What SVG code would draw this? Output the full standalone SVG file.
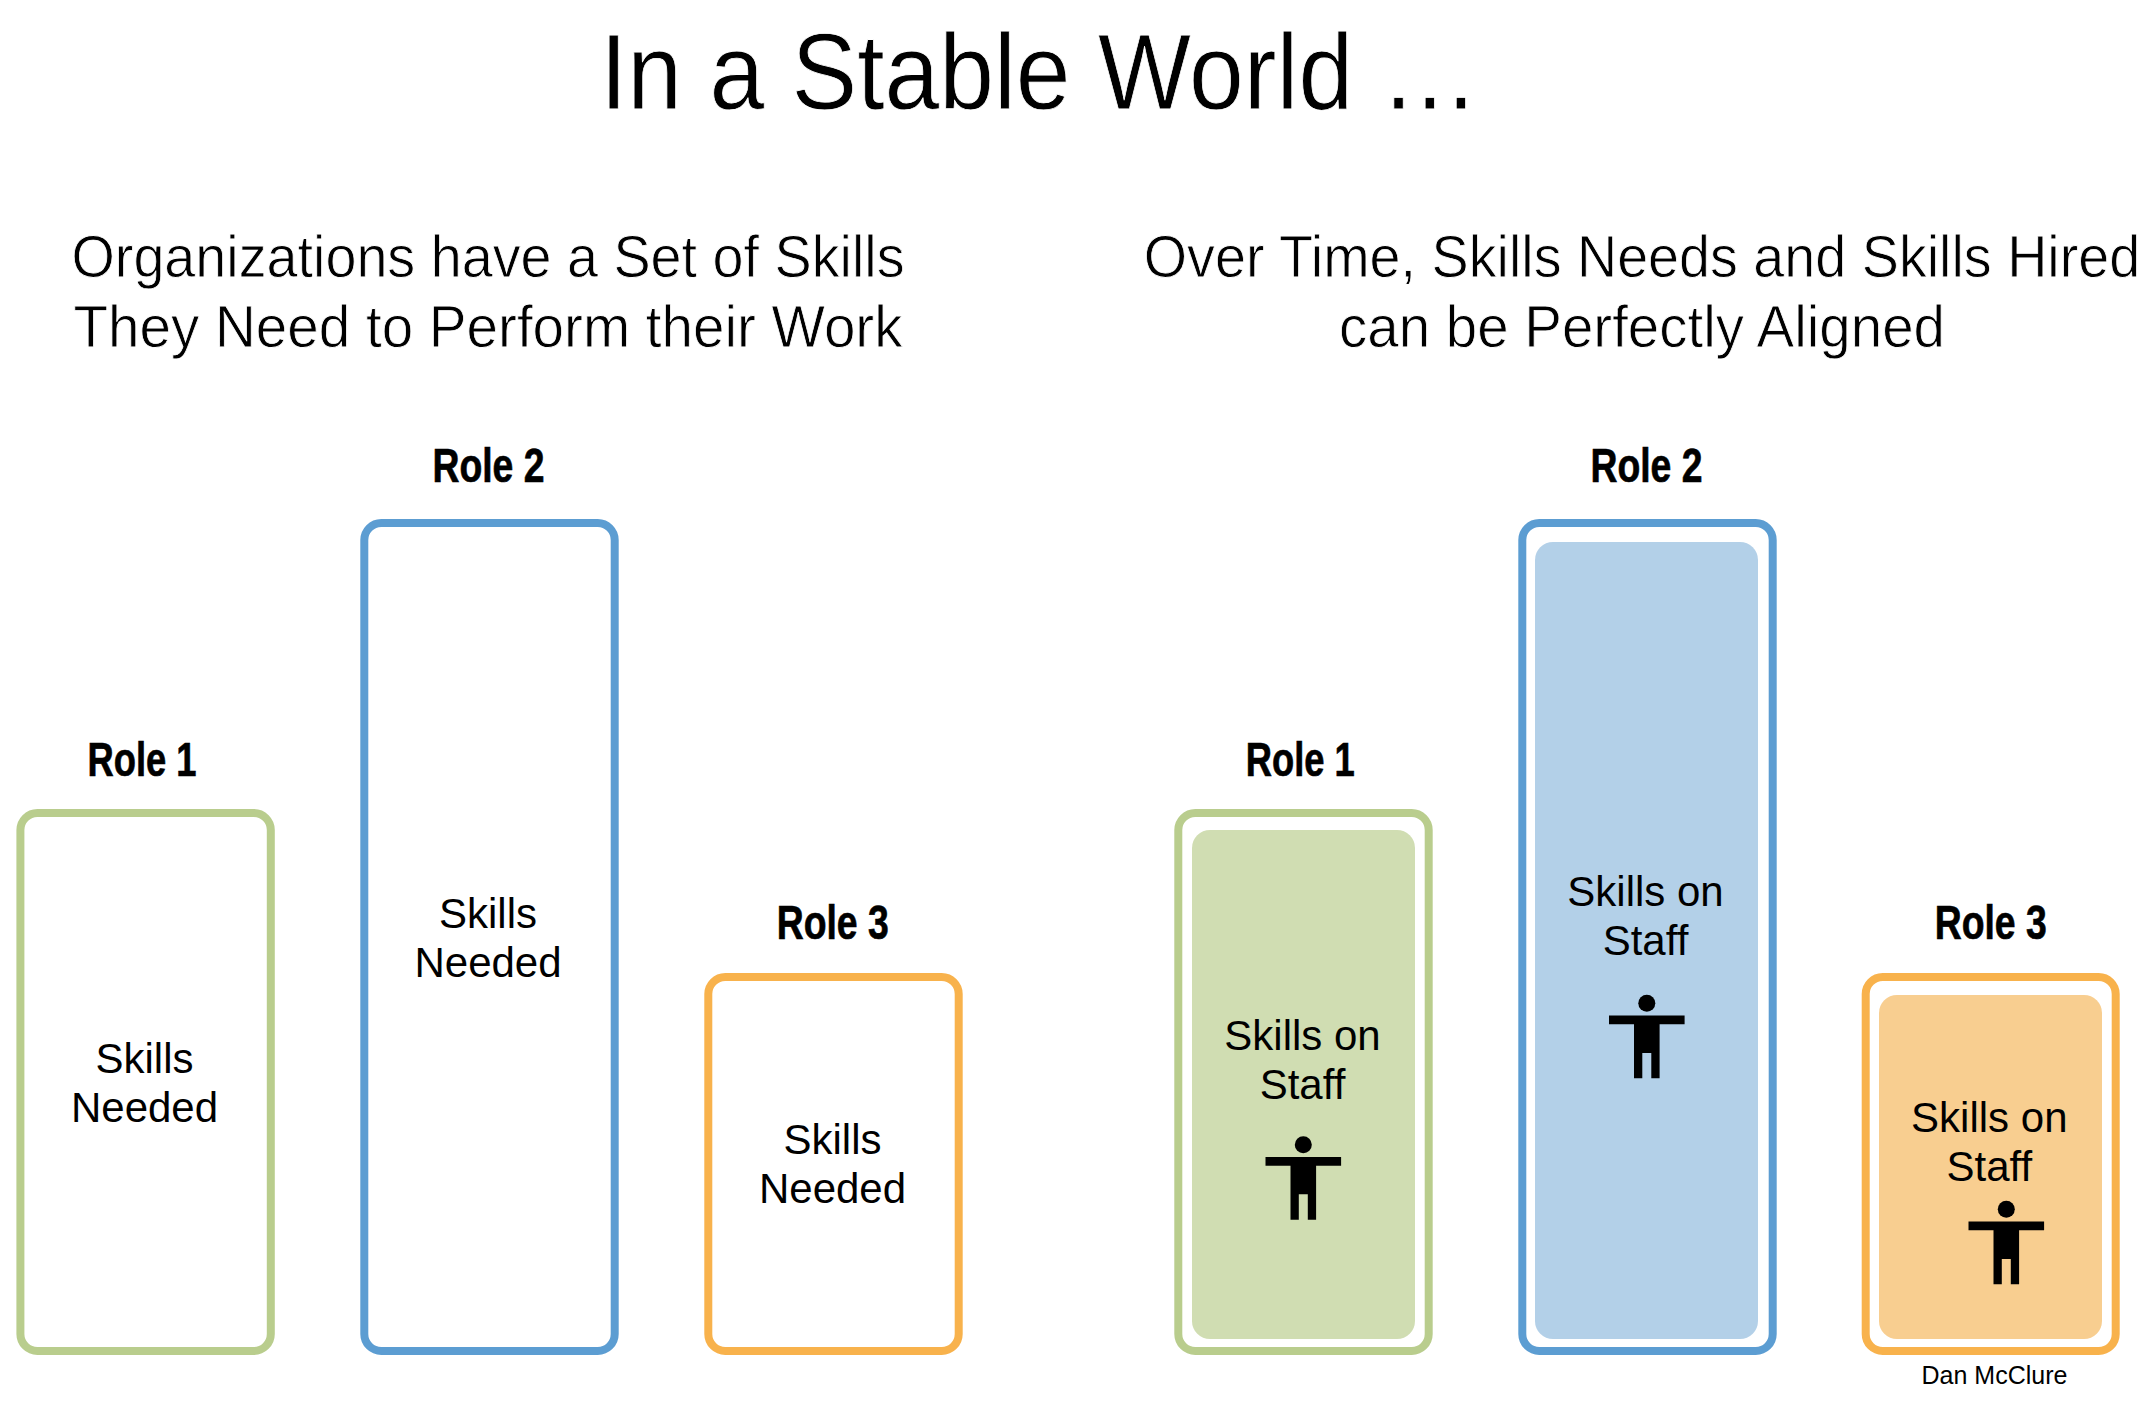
<svg xmlns="http://www.w3.org/2000/svg" width="2154" height="1402" viewBox="0 0 2154 1402">
<style>
text{font-family:"Liberation Sans",Arial,sans-serif;fill:#000;text-anchor:middle}
.t{stroke:#fff;stroke-width:.8px}
.h{font-size:108px}.s{font-size:59px}
.r{font-size:49px;font-weight:700;stroke:#000;stroke-width:.7px}
.l{font-size:42px}
.box{fill:#fff;stroke-width:8}
.g{stroke:#b9cd8d}.b{stroke:#5c9dd2}.o{stroke:#f8b24c}
</style>
<defs>
<g id="person"><circle cx="0" cy="0" r="8.5"/><path d="M-37.8 12.2H37.8V21H12.8V75H4.5V49.6H-4.5V75H-12.8V21H-37.8Z"/></g>
</defs>
<rect width="2154" height="1402" fill="#fff"/>
<g id="title"><text class="t h" x="1039.5" y="108.5" textLength="879" lengthAdjust="spacingAndGlyphs">In a Stable World …</text></g>
<g id="sub-left"><text class="t s" x="488" y="277" textLength="833" lengthAdjust="spacingAndGlyphs">Organizations have a Set of Skills</text><text class="t s" x="488" y="347" textLength="829" lengthAdjust="spacingAndGlyphs">They Need to Perform their Work</text></g>
<g id="sub-right"><text class="t s" transform="translate(1642 277) scale(.944 1)">Over Time, Skills Needs and Skills Hired</text><text class="t s" x="1642" y="347" textLength="606" lengthAdjust="spacingAndGlyphs">can be Perfectly Aligned</text></g>
<g id="left-role1"><text class="r" x="142" y="776" textLength="109" lengthAdjust="spacingAndGlyphs">Role 1</text><rect class="box g" x="20.4" y="813" width="250.4" height="538" rx="17"/><text class="l" x="144.5" y="1073">Skills</text><text class="l" x="144.5" y="1122">Needed</text></g>
<g id="left-role2"><text class="r" x="488.5" y="481.5" textLength="112" lengthAdjust="spacingAndGlyphs">Role 2</text><rect class="box b" x="364.3" y="523" width="250.4" height="828" rx="17"/><text class="l" x="488" y="928">Skills</text><text class="l" x="488" y="977">Needed</text></g>
<g id="left-role3"><text class="r" x="832.7" y="938.5" textLength="112" lengthAdjust="spacingAndGlyphs">Role 3</text><rect class="box o" x="708.3" y="977" width="250.4" height="374" rx="17"/><text class="l" x="832.5" y="1153.5">Skills</text><text class="l" x="832.5" y="1202.5">Needed</text></g>
<g id="right-role1"><text class="r" x="1300.3" y="776" textLength="109" lengthAdjust="spacingAndGlyphs">Role 1</text><rect class="box g" x="1178.3" y="813" width="250.4" height="538" rx="17"/><rect x="1192" y="830" width="223" height="509" rx="18" fill="#d0ddb2"/><text class="l" x="1302.5" y="1050">Skills on</text><text class="l" x="1302.5" y="1099">Staff</text><use href="#person" x="1303.3" y="1144.7"/></g>
<g id="right-role2"><text class="r" x="1646.5" y="481.5" textLength="112" lengthAdjust="spacingAndGlyphs">Role 2</text><rect class="box b" x="1522.3" y="523" width="250.4" height="828" rx="17"/><rect x="1535" y="542" width="223" height="797" rx="18" fill="#b3d0e8"/><text class="l" x="1645.5" y="905.5">Skills on</text><text class="l" x="1645.5" y="954.5">Staff</text><use href="#person" x="1646.8" y="1003.3"/></g>
<g id="right-role3"><text class="r" x="1990.7" y="938.5" textLength="112" lengthAdjust="spacingAndGlyphs">Role 3</text><rect class="box o" x="1865.7" y="977" width="250" height="374" rx="17"/><rect x="1879" y="995" width="223" height="344" rx="18" fill="#f8ce90"/><text class="l" x="1989.3" y="1131.5">Skills on</text><text class="l" x="1989.3" y="1180.5">Staff</text><use href="#person" x="2006.3" y="1209.3"/></g>
<g id="credit"><text x="1994.5" y="1384" font-size="25">Dan McClure</text></g>
<g id="connectors"/>
</svg>
